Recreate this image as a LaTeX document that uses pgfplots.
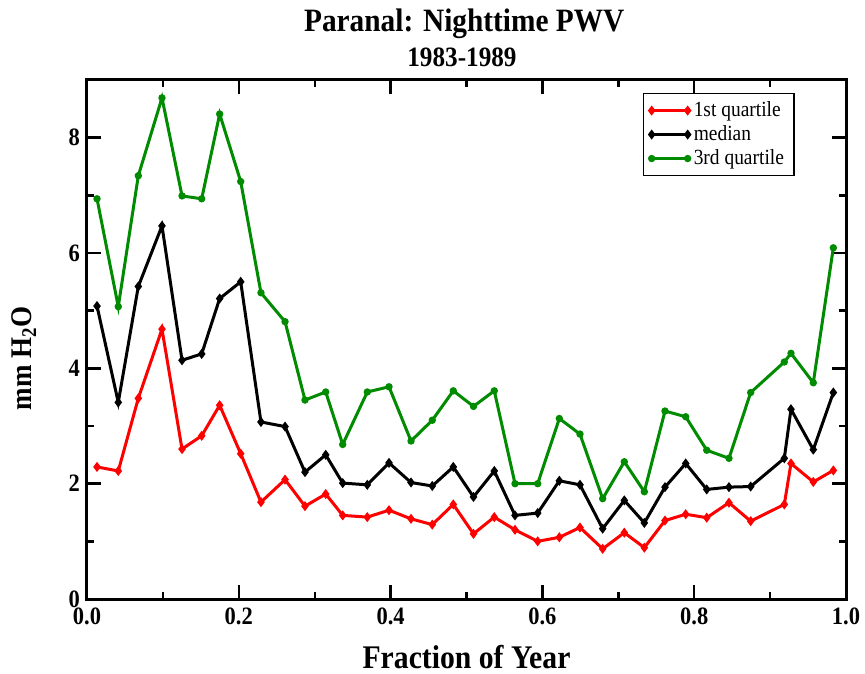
\documentclass[border=0pt]{standalone}
\usepackage{pgfplots}
\usepackage{pgfplotstable}
\pgfplotsset{compat=1.18}
\usepackage{fontspec}
\setmainfont{Liberation Serif}[FakeStretch=0.9]

\definecolor{grred}{RGB}{255,0,0}
\definecolor{grgreen}{RGB}{0,139,0}

% Nighttime precipitable water vapour at Paranal, 1983-1989
% x: fraction of year; q1: 1st quartile; med: median; q3: 3rd quartile (mm H2O)
\pgfplotstableread{
x       q1    med   q3
0.0132  2.29  5.08  6.94
0.0412  2.22  3.41  5.07
0.0676  3.48  5.42  7.34
0.0988  4.68  6.47  8.69
0.1252  2.60  4.14  6.99
0.1511  2.83  4.25  6.94
0.1748  3.36  5.21  8.41
0.2025  2.52  5.50  7.24
0.2292  1.68  3.07  5.31
0.2609  2.07  2.99  4.81
0.2872  1.61  2.20  3.45
0.3145  1.82  2.50  3.59
0.3369  1.45  2.01  2.68
0.3693  1.42  1.98  3.59
0.3979  1.54  2.36  3.68
0.4269  1.39  2.02  2.74
0.4549  1.29  1.96  3.10
0.4826  1.64  2.29  3.61
0.5092  1.13  1.77  3.34
0.5366  1.42  2.22  3.61
0.5639  1.20  1.45  2.00
0.5938  1.00  1.49  2.00
0.6223  1.07  2.05  3.13
0.6495  1.24  1.98  2.86
0.6794  0.87  1.22  1.74
0.7079  1.15  1.71  2.38
0.7343  0.89  1.32  1.86
0.7615  1.36  1.94  3.26
0.7888  1.47  2.35  3.16
0.8165  1.41  1.90  2.58
0.8458  1.67  1.94  2.44
0.8744  1.35  1.95  3.58
0.9187  1.64  2.44  4.11
0.9275  2.35  3.29  4.26
0.9569  2.03  2.59  3.75
0.9833  2.23  3.58  6.09
}\pwvdata

\begin{document}
\begin{tikzpicture}
\begin{axis}[
  scale only axis,
  width=379.5pt, height=259.5pt,
  xmin=0, xmax=1, ymin=0, ymax=9,
  xtick={0,0.2,0.4,0.6,0.8,1.0},
  ytick={0,2,4,6,8},
  minor x tick num=1,
  minor y tick num=1,
  tick align=inside,
  major tick length=7pt,
  minor tick length=3.5pt,
  axis line style={line width=1.5pt},
  every tick/.style={black, line width=1.2pt},
  /pgf/number format/assume math mode=true,
  xticklabel style={font=\fontsize{12.5}{14}\selectfont\bfseries,
    /pgf/number format/fixed, /pgf/number format/fixed zerofill,
    /pgf/number format/precision=1, yshift=-1pt},
  yticklabel style={font=\fontsize{12.5}{14}\selectfont\bfseries,
    /pgf/number format/fixed},
  xlabel={Fraction of Year},
  xlabel style={font=\fontsize{16.5}{19}\selectfont\bfseries,
    at={(rel axis cs:0.5,-0.133)}, anchor=base},
  ylabel={mm H\textsubscript{2}O},
  ylabel style={font=\fontsize{15}{18}\selectfont\bfseries,
    at={(rel axis cs:-0.083,0.464)}, anchor=center, rotate=0},
  legend cell align=left,
  legend style={at={(rel axis cs:0.7325,0.975)}, anchor=north west,
    draw=black, line width=0.6pt,
    font=\fontsize{10.8}{12}\selectfont,
    inner xsep=3pt, inner ysep=2pt, row sep=-1pt},
  legend image code/.code={
    \draw[#1] plot coordinates {(0pt,0pt) (18pt,0pt)};
  },
  clip=false,
]
\addplot[color=grred, line width=1.5pt, mark=diamond*, mark size=1.3pt,
  mark options={solid}] table[x=x, y=q1] {\pwvdata};
\addlegendentry{1st quartile}
\addplot[color=black, line width=1.5pt, mark=diamond*, mark size=1.3pt,
  mark options={solid}] table[x=x, y=med] {\pwvdata};
\addlegendentry{median}
\addplot[color=grgreen, line width=1.5pt, mark=*, mark size=1.05pt,
  mark options={solid}] table[x=x, y=q3] {\pwvdata};
\addlegendentry{3rd quartile}

\node[font=\fontsize{16.3}{19}\selectfont\bfseries, anchor=base]
  at (rel axis cs:0.497,1.093) {Paranal: Nighttime PWV};
\node[font=\fontsize{14}{17}\selectfont\bfseries, anchor=base]
  at (rel axis cs:0.494,1.0256) {1983-1989};
\end{axis}
\pgfresetboundingbox
\path ([shift={(-43.5pt,-37pt)}]current axis.south west)
  rectangle ([shift={(389pt,299.5pt)}]current axis.south west);
\end{tikzpicture}
\end{document}
